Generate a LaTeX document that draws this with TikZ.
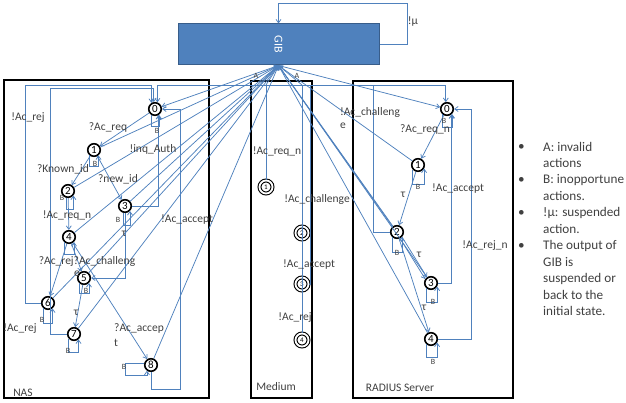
\documentclass[tikz,border=0pt]{standalone}
\usepackage{fontspec}
\setmainfont{Carlito}
\usetikzlibrary{arrows.meta}
\definecolor{wireblue}{RGB}{79,129,189}
\definecolor{gibedge}{RGB}{56,93,138}
\definecolor{labelgray}{RGB}{64,64,64}
\begin{document}
\begin{tikzpicture}[x=1pt,y=-1pt,
  wire/.style={draw=wireblue,line width=0.75pt},
  arr/.style={-{Straight Barb[length=3.5pt,width=5pt]}},
  st/.style={circle,draw=black,line width=1.6pt,fill=white,minimum size=12.5pt,inner sep=0pt,font=\fontsize{11}{11}\selectfont},
  mst/.style={circle,draw=black,line width=1.1pt,double=white,double distance=1.8pt,minimum size=13pt,inner sep=0pt,font=\fontsize{7}{7}\selectfont},
  lbl/.style={text=labelgray,inner sep=0pt,font=\fontsize{11.5}{12}\selectfont},
  blbl/.style={text=labelgray,inner sep=0pt,font=\fontsize{8}{8}\selectfont},
  boxline/.style={draw=black,line width=1.6pt},
  note/.style={text=labelgray,inner sep=0pt,anchor=west,font=\fontsize{13.2}{15}\selectfont}]
\useasboundingbox (0,0) rectangle (626,403);

% component frames
\draw[boxline] (4,80) rectangle (209,398);
\draw[boxline] (251,81) rectangle (312,398);
\draw[boxline] (353,81) rectangle (513,398);

% guard block
\node[draw=gibedge,line width=1pt,fill=wireblue,minimum width=201pt,minimum height=41pt,inner sep=0pt,text=white,font=\fontsize{12}{12}\selectfont]
  (gib) at (278.5,44.5) {\rotatebox{-90}{GIB}};

% NAS states
\node[st] (n0) at (155,109) {0};
\node[st] (n1) at (94,150) {1};
\node[st] (n2) at (68,191) {2};
\node[st] (n3) at (125,206) {3};
\node[st] (n4) at (69,237) {4};
\node[st] (n5) at (84,278) {5};
\node[st] (n6) at (48,303) {6};
\node[st] (n7) at (74,334) {7};
\node[st] (n8) at (151,365) {8};

% medium states
\node[mst] (m1) at (266,187) {1};
\node[mst] (m2) at (302,233) {2};
\node[mst] (m3) at (302,284) {3};
\node[mst] (m4) at (302,340) {4};

% RADIUS server states
\node[st] (r0) at (447,109) {0};
\node[st] (r1) at (418,165) {1};
\node[st] (r2) at (397,232) {2};
\node[st] (r3) at (431,283) {3};
\node[st] (r4) at (431,339) {4};

% bus corners
\coordinate (busR) at (373,85);
\coordinate (mA) at (266,85);
\coordinate (mB) at (302,85);
\coordinate (mC) at (310,85);

% GIB suspend loop
\draw[wire,arr] (gib.east) -- ++(28,0) -- ++(0,-41) -| (gib.north);

% lines between the states and GIB
\draw[wire,arr] (gib.south) -- (n0);
\foreach \s in {n1,n2,n3,n4,n5,n6,n7,n8} \draw[wire,arr] (\s) -- (gib.south);
\draw[wire,arr] (gib.south) -- (r0);
\foreach \s in {r1,r2,r3,r4} \draw[wire,arr] (\s) -- (gib.south);
\draw[wire,arr] (r2.130) -- (gib.south);
\draw[wire,arr] (mA) -- (gib.south);
\draw[wire,arr] (mB) -- (gib.south);

% NAS transitions
\draw[wire,arr] (n0) -- (n1);
\draw[wire,arr] (n1) -- (n2);
\draw[wire,arr] (n1) -- (n3);
\draw[wire,arr] (n2) -- (n4);
\draw[wire,arr] (n3.east) -| (n0.300);
\draw[wire,arr] (n3.south) |- (n5.east);
\draw[wire,arr] (n4) -- (n6);
\draw[wire,arr] (n4) -- (n5);
\draw[wire,arr] (n4) -- (n8);
\draw[wire,arr] (n5) -- (n7);
\draw[wire,arr] (n6.west) -| (25,85) -| (n0.120);
\draw[wire,arr] (n7.west) -| (50,88) -| (n0.100);
\draw[wire,arr] (n8.south) |- (180,389) |- (n0.east);

% NAS inopportune loops
\draw[wire,arr] (n0.235) -- ++(0,12) -| (n0.305);
\draw[wire,arr] (n1.225) -- ++(0,11) -| (n1.310);
\draw[wire,arr] (n2.260) -- ++(0,11) -| (n2.320);
\draw[wire,arr] (n3.260) -- ++(0,12) -| (n3.315);
\draw[wire,arr] (n4.225) -- ++(0,12) -| (n4.315);
\draw[wire,arr] (n5.225) -- ++(0,10) -| (n5.315);
\draw[wire,arr] (n6.230) -- ++(0,15) -| (n6.310);
\draw[wire,arr] (n7.220) -- ++(0,14) -| (n7.310);
\draw[wire,arr] (n8.165) -| (125,375) -| (n8.235);

% medium wiring
\draw[wire] (mA) -- (m1);
\draw[wire] (mB) -- (m4.north);
\draw[wire] (mC) |- (m3.east);

% RADIUS transitions
\draw[wire,arr] (r0) -- (r1);
\draw[wire,arr] (r1) -- (r2);
\draw[wire,arr] (r2.-45) -- (r3.125);
\draw[wire,arr] (r2.-65) -- (r3.145);
\draw[wire,arr] (r2) -- (r4);
\draw[wire,arr] (r2.west) -| (busR) -| (r0.100);
\draw[wire,arr] (busR) -| (n0.70);
\draw[wire,arr] (r3.east) -| (r0.310);
\draw[wire,arr] (r4.east) -| ([xshift=17pt]r0.east) -- (r0.east);

% RADIUS inopportune loops
\draw[wire,arr] (r0.225) -- ++(0,13) -| (r0.315);
\draw[wire,arr] (r1.220) -- ++(0,15) -| (r1.330);
\draw[wire,arr] (r2.225) -- ++(0,15) -| (r2.315);
\draw[wire,arr] (r3.230) -- ++(0,14) -| (r3.330);
\draw[wire,arr] (r4.230) -- ++(0,13) -| (r4.330);

% NAS labels
\node[lbl] at (28,118) {!Ac\_rej};
\node[lbl] at (108,128) {?Ac\_req};
\node[lbl] at (153,149) {!inq\_Auth};
\node[lbl] at (63,169) {?Known\_id};
\node[lbl] at (118,179) {?new\_id};
\node[lbl] at (67,216) {!Ac\_req\_n};
\node[lbl] at (187,220) {!Ac\_accept};
\node[lbl] at (124,234) {τ};
\node[lbl] at (87,261) {?Ac\_rej?Ac\_challeng};
\node[lbl] at (77,274) {e};
\node[lbl] at (20,329) {!Ac\_rej};
\node[lbl] at (76,313) {τ};
\node[lbl] at (139,328) {?Ac\_accep};
\node[lbl] at (116,343) {t};
\node[lbl] at (23,393) {NAS};
\node[blbl] at (157,131) {B};
\node[blbl] at (95,164) {B};
\node[blbl] at (62,198) {B};
\node[blbl] at (118,220) {B};
\node[blbl] at (86,291) {B};
\node[blbl] at (42,320) {B};
\node[blbl] at (68,351) {B};
\node[blbl] at (124,367) {B};

% medium labels
\node[blbl] at (256,76) {A};
\node[blbl] at (297,76) {A};
\node[lbl] at (277,152) {!Ac\_req\_n};
\node[lbl] at (317,199) {!Ac\_challenge};
\node[lbl] at (309,265) {!Ac\_accept};
\node[lbl] at (295,318) {!Ac\_rej};
\node[lbl] at (276,387) {Medium};

% RADIUS labels
\node[lbl] at (370,112) {!Ac\_challeng};
\node[lbl] at (343,126) {e};
\node[lbl] at (425,130) {?Ac\_req\_n};
\node[lbl] at (403,195) {τ};
\node[lbl] at (458,189) {!Ac\_accept};
\node[lbl] at (419,255) {τ};
\node[lbl] at (485,246) {!Ac\_rej\_n};
\node[lbl] at (424,308) {τ};
\node[lbl] at (400,388) {RADIUS Server};
\node[blbl] at (444,121) {B};
\node[blbl] at (418,187) {B};
\node[blbl] at (397,253) {B};
\node[blbl] at (433,302) {B};
\node[blbl] at (433,362) {B};

% suspend label
\node[lbl] at (413,22) {!μ};

% notes
\node[note] at (518,147) {•};
\node[note] at (543,147) {A: invalid};
\node[note] at (543,163) {actions};
\node[note] at (518,180) {•};
\node[note] at (543,180) {B: inopportune};
\node[note] at (543,196) {actions.};
\node[note] at (518,213) {•};
\node[note] at (543,213) {!μ: suspended};
\node[note] at (543,229) {action.};
\node[note] at (518,246) {•};
\node[note] at (543,246) {The output of};
\node[note] at (543,262) {GIB is};
\node[note] at (543,279) {suspended or};
\node[note] at (543,295) {back to the};
\node[note] at (543,311) {initial state.};
\end{tikzpicture}
\end{document}
